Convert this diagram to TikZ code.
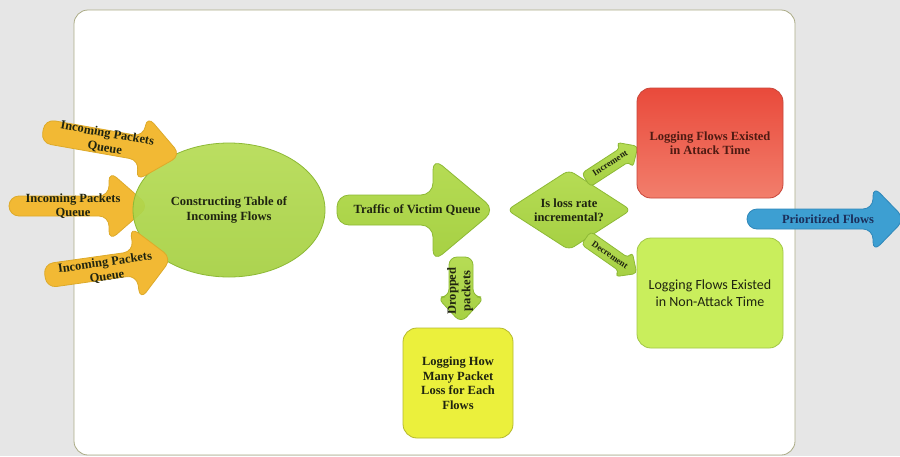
\documentclass[tikz,border=0pt]{standalone}
\usepackage{fontspec}
\setmainfont{Liberation Serif}
\newfontfamily\calibfont{Carlito}
\usetikzlibrary{shapes.geometric}

\definecolor{bggray}{HTML}{E6E6E6}
\definecolor{panelline}{HTML}{ABAB86}
\definecolor{inyellow}{HTML}{F2B934}
\definecolor{inyellowline}{HTML}{DDAA2A}
\definecolor{leaf}{HTML}{A6D043}
\definecolor{leaflight}{HTML}{B6DC55}
\definecolor{leafline}{HTML}{8DB935}
\definecolor{attackred}{HTML}{E94A3B}
\definecolor{attackredlight}{HTML}{F27E6C}
\definecolor{attackline}{HTML}{C8463A}
\definecolor{calmgreen}{HTML}{C9EE5C}
\definecolor{calmgreenline}{HTML}{A2C746}
\definecolor{lossyellow}{HTML}{EBF03C}
\definecolor{lossyellowline}{HTML}{B5B92E}
\definecolor{outblue}{HTML}{3D9FD2}
\definecolor{outblueline}{HTML}{2F87B9}
\definecolor{txtdark}{HTML}{1F2410}
\definecolor{txtred}{HTML}{4E1A12}
\definecolor{txtblue}{HTML}{1B2E5A}

% block arrow: #1 style, #2 tail, #3 angle, #4 length, #5 shaft half, #6 head half, #7 head length
\newcommand{\blockarrow}[7]{%
  \begin{scope}[shift={#2}, rotate=#3]
    \path[#1] (0,-#5) -- ({#4-#7},-#5) -- ({#4-#7},-#6) -- (#4,0)
      -- ({#4-#7},#6) -- ({#4-#7},#5) -- (0,#5) -- cycle;
  \end{scope}}

\begin{document}
\begin{tikzpicture}[
  x=1pt, y=-1pt,
  line width=0.8pt, line join=round,
  lbl/.style={inner sep=0pt, align=center, text=txtdark,
    font=\fontsize{12.5}{14.5}\selectfont\bfseries},
  smalllbl/.style={lbl, font=\fontsize{9}{10}\selectfont\bfseries},
  inarrow/.style={fill=inyellow, draw=inyellowline, rounded corners=10pt},
  leafarrow/.style={top color=leaflight, bottom color=leaf, draw=leafline, rounded corners=12pt},
  droparrow/.style={leafarrow, rounded corners=8pt},
  smallarrow/.style={leafarrow, rounded corners=4pt},
  outarrow/.style={fill=outblue, draw=outblueline, rounded corners=10pt},
  box/.style={lbl, rounded corners=14pt, minimum width=146pt, minimum height=110pt}
]
  % ---- canvas ----
  \useasboundingbox (0,0) rectangle (900,456);
  \clip (0,0) rectangle (900,456);
  \fill[bggray] (0,0) rectangle (900,456);
  \draw[panelline, fill=white, rounded corners=14pt] (74,10) rectangle (795,455);

  % ---- incoming queues and the table ----
  \blockarrow{inarrow}{(9,206)}{0}{140}{10}{35}{40}
  \node[ellipse, draw=leafline, top color=leaflight, bottom color=leaf, fill opacity=0.93,
        text opacity=1, minimum width=192pt, minimum height=134pt, lbl] (table) at (229,210)
        {Constructing Table of\\Incoming Flows};
  \blockarrow{inarrow}{(43,131)}{-10}{140}{12}{33}{40}
  \blockarrow{inarrow}{(45,276)}{8}{128}{12}{37}{37}
  \node[lbl, rotate=-10] (inq1) at (106,141) {Incoming Packets\\Queue};
  \node[lbl] (inq2) at (73,206) {Incoming Packets\\Queue};
  \node[lbl, rotate=8] (inq3) at (106,270) {Incoming Packets\\Queue};

  % ---- victim queue and dropped packets ----
  \blockarrow{leafarrow}{(337,210)}{0}{158}{15}{52}{62}
  \node[lbl] (traffic) at (417,210) {Traffic of Victim Queue};
  \blockarrow{droparrow}{(461,257)}{-90}{66}{12}{24}{26}
  \node[lbl, rotate=90] (dropped) at (460,291) {Dropped\\packets};
  \node[box, fill=lossyellow, draw=lossyellowline, minimum width=110pt] (lossbox) at (458,383)
        {Logging How\\Many Packet\\Loss for Each\\Flows};

  % ---- decision ----
  \node[diamond, aspect=1.55, draw=leafline, top color=leaflight, bottom color=leaf,
        rounded corners=6pt, minimum width=124pt, minimum height=80pt, lbl] (decide) at (569,210)
        {Is loss rate\\incremental?};
  \blockarrow{smallarrow}{(586,180)}{33}{62}{8}{15}{16}
  \blockarrow{smallarrow}{(586,238)}{-35}{62}{8}{15}{16}
  \node[smalllbl, rotate=33] (incr) at (610,163) {Increment};
  \node[smalllbl, rotate=-35] (decr) at (610,255) {Decrement};

  % ---- logging boxes ----
  \node[box, top color=attackred, bottom color=attackredlight, draw=attackline, text=txtred] (attack)
        at (710,143) {Logging Flows Existed\\in Attack Time};
  \node[box, fill=calmgreen, draw=calmgreenline,
        font=\calibfont\fontsize{14}{17}\selectfont] (nonattack) at (710,293)
        {Logging Flows Existed\\in Non-Attack Time};

  % ---- output ----
  \blockarrow{outarrow}{(747,219)}{0}{158}{10}{33}{32}
  \node[lbl, text=txtblue] (prior) at (828,219) {Prioritized Flows};
\end{tikzpicture}
\end{document}
